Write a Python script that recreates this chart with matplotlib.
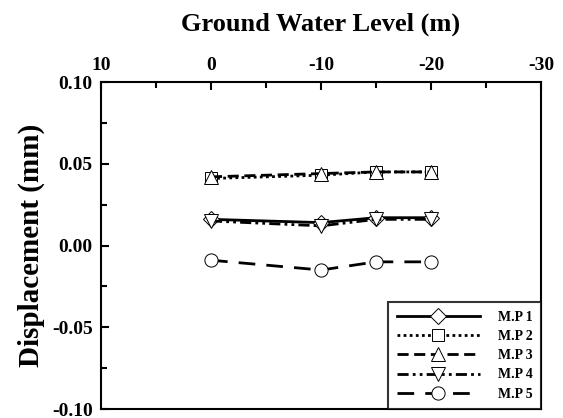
import matplotlib
matplotlib.use("Agg")
import matplotlib.pyplot as plt
from matplotlib.ticker import MultipleLocator, FormatStrFormatter

water_level = [0, -10, -15, -20]
mp1 = [0.016, 0.014, 0.017, 0.017]
mp2 = [0.041, 0.043, 0.045, 0.045]
mp3 = [0.042, 0.044, 0.045, 0.045]
mp4 = [0.015, 0.012, 0.016, 0.016]
mp5 = [-0.009, -0.015, -0.010, -0.010]
labels = ["M.P 1", "M.P 2", "M.P 3", "M.P 4", "M.P 5"]

plt.rcParams['font.family'] = ['Liberation Serif', 'DejaVu Serif']
plt.rcParams['font.weight'] = 'bold'
plt.rcParams['axes.unicode_minus'] = False

fig = plt.figure(figsize=(5.63, 4.18), dpi=100)
ax = fig.add_axes([101/563, 1-409/418, 440/563, 327/418])

series = [mp1, mp2, mp3, mp4, mp5]
markers = ['D', 's', '^', 'v', 'o']
styles = ['-', (0, (1, 1.2)), (0, (4, 2)), (0, (4, 1.5, 1, 1.5, 1, 1.5)), (0, (6, 4))]
msizes = [8.5, 8.5, 9.5, 9.5, 9.5]
for ys, m, ls, ms, lab in zip(series, markers, styles, msizes, labels):
    ax.plot(water_level, ys, color='black', linestyle=ls, linewidth=2.0,
            marker=m, markersize=ms, markerfacecolor='white',
            markeredgecolor='black', markeredgewidth=0.7, label=lab)

ax.set_xlim(10, -30)
ax.set_ylim(-0.10, 0.10)
ax.xaxis.set_major_locator(MultipleLocator(10))
ax.xaxis.set_minor_locator(MultipleLocator(5))
ax.yaxis.set_major_locator(MultipleLocator(0.05))
ax.yaxis.set_minor_locator(MultipleLocator(0.025))
ax.yaxis.set_major_formatter(FormatStrFormatter('%.2f'))
ax.xaxis.tick_top()
ax.xaxis.set_label_position('top')
ax.tick_params(axis='both', which='both', direction='in', width=1.5,
               labelsize=14, top=True, bottom=False, left=True, right=False)
ax.tick_params(which='major', length=6)
ax.tick_params(which='minor', length=4)
ax.tick_params(axis='x', pad=6)
ax.tick_params(axis='y', pad=6)
for lab in ax.get_xticklabels() + ax.get_yticklabels():
    lab.set_fontweight('bold')
for sp in ax.spines.values():
    sp.set_linewidth(1.5)

ax.set_xlabel("Ground Water Level (m)", fontsize=19, fontweight='bold', labelpad=19)
ax.set_ylabel("Displacement (mm)", fontsize=21, fontweight='bold', labelpad=5)

leg = ax.legend(loc='lower right', fontsize=10, frameon=True, fancybox=False,
                handlelength=6, borderaxespad=0, edgecolor='black',
                labelspacing=0.45, handletextpad=1.3, borderpad=0.6)
leg.get_frame().set_linewidth(1.5)
for t in leg.get_texts():
    t.set_fontweight('bold')

fig.savefig("out.png", dpi=100)
